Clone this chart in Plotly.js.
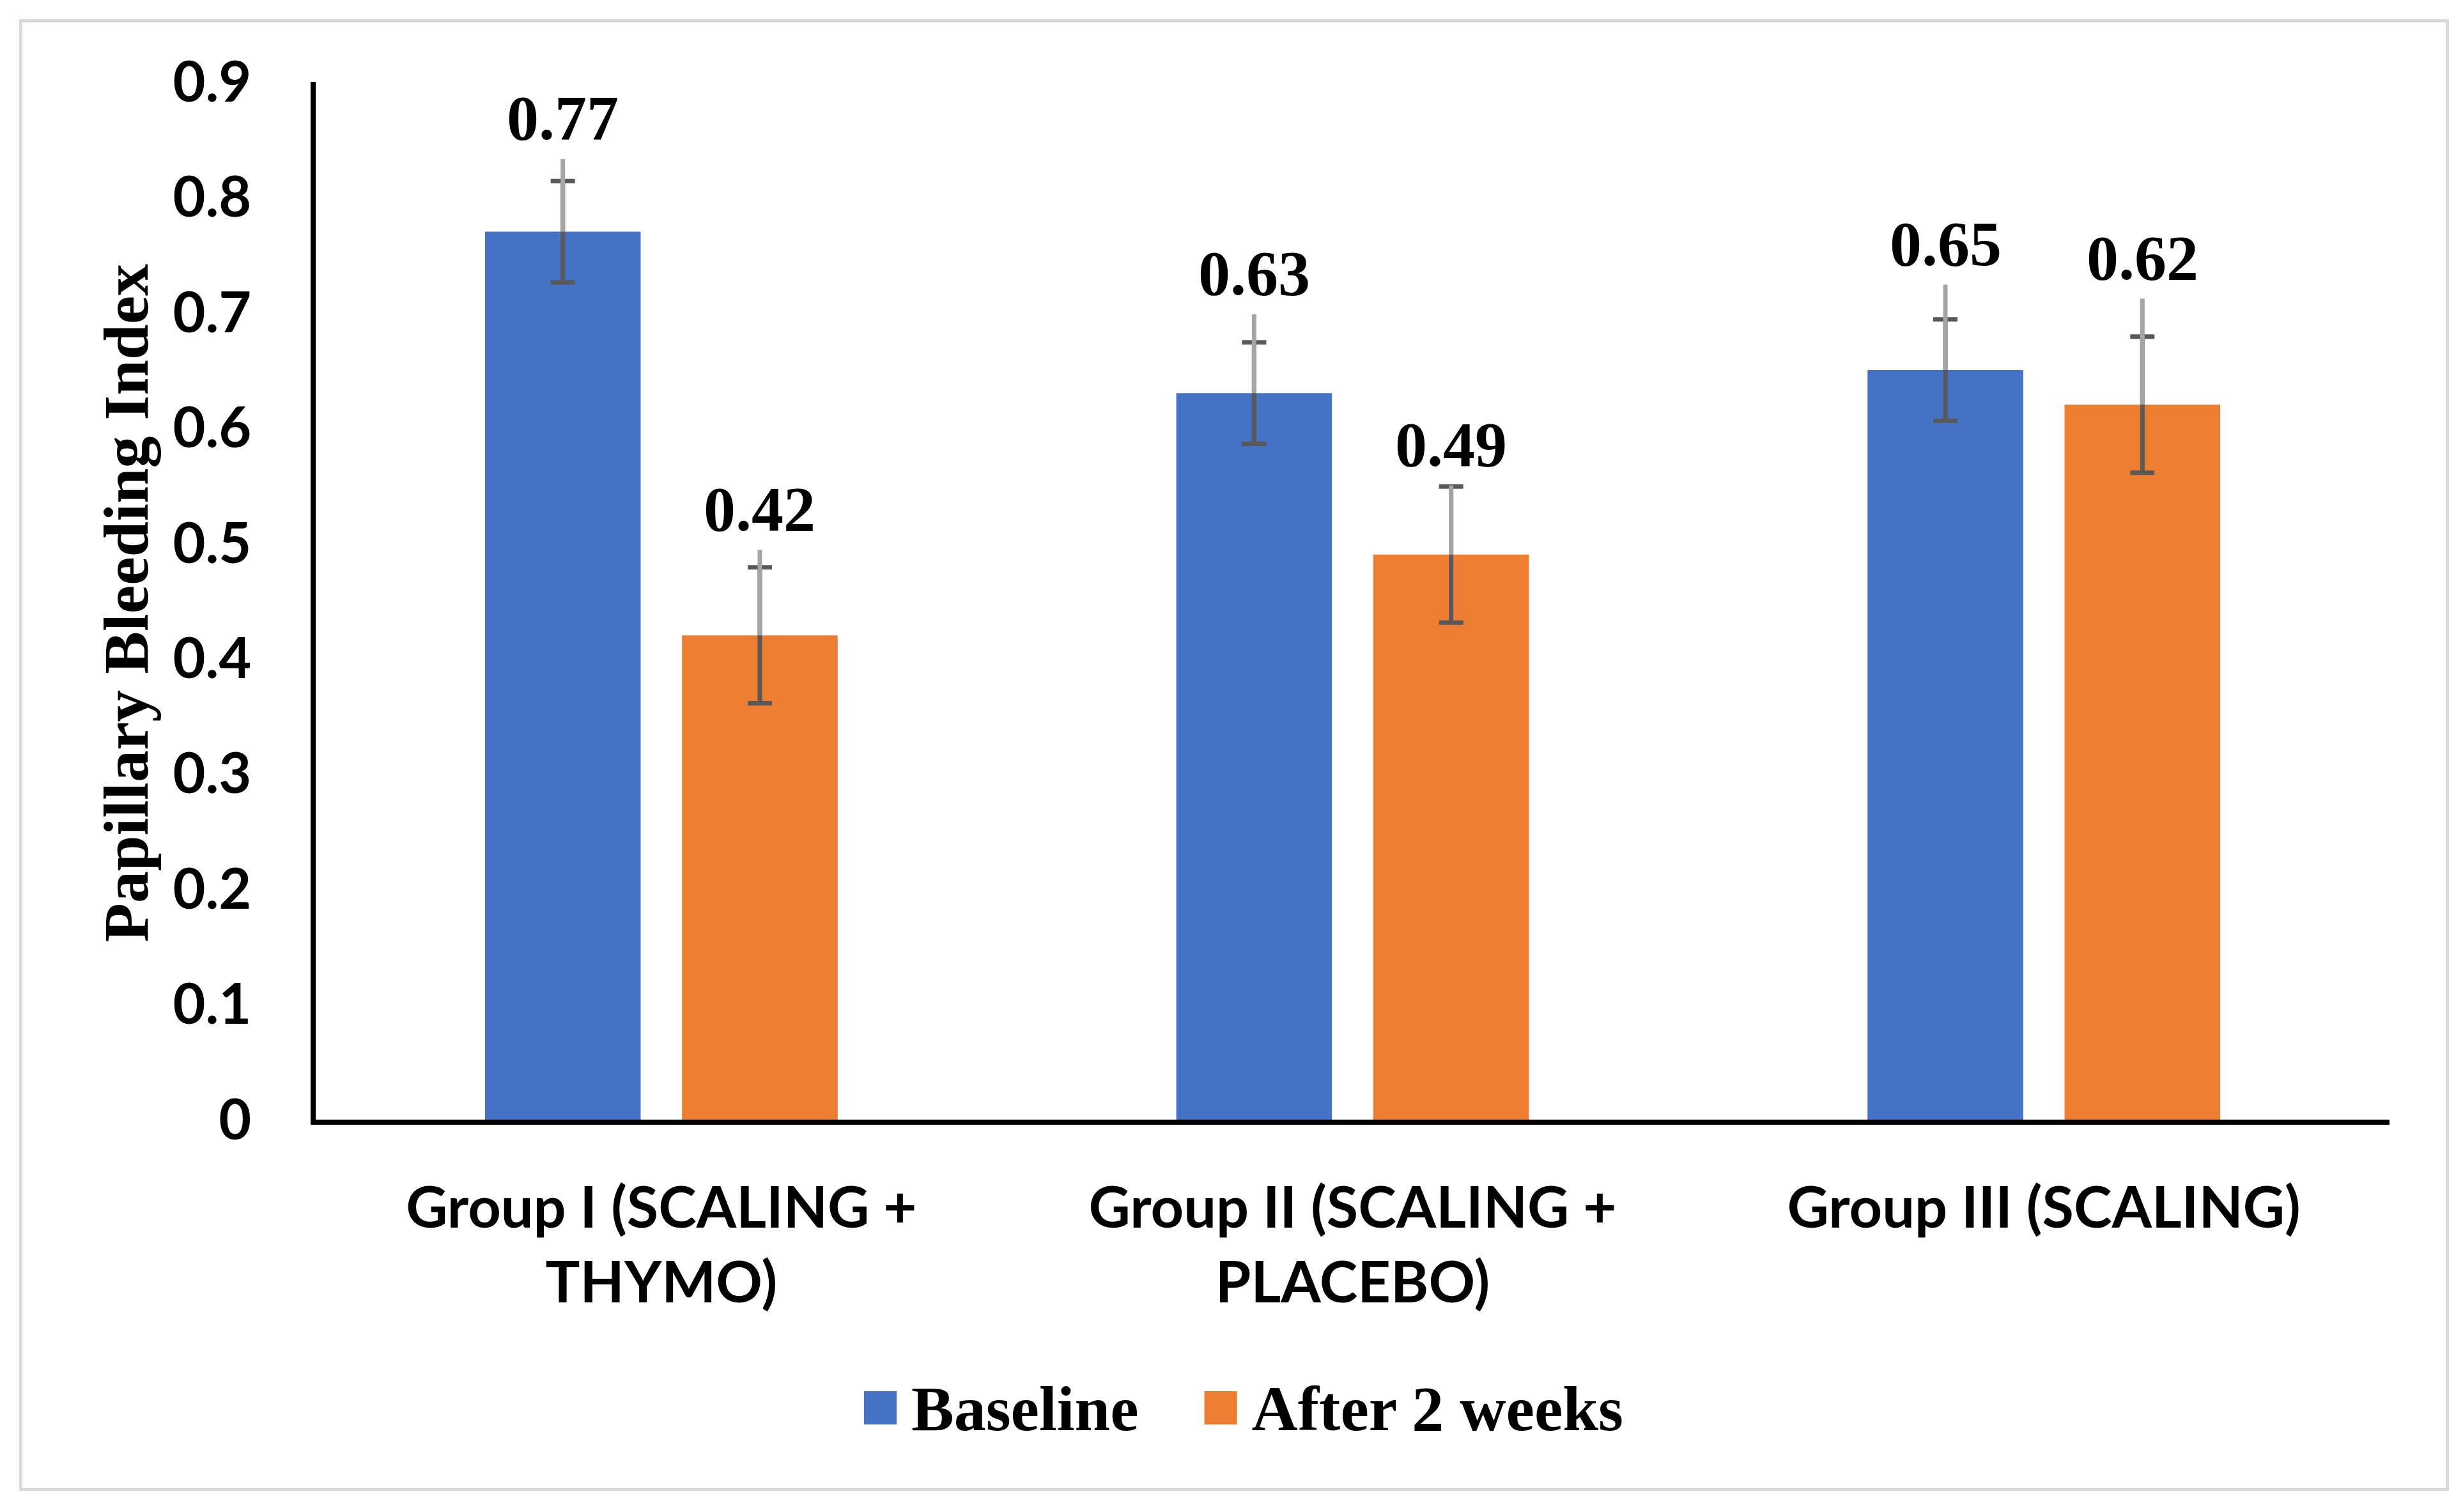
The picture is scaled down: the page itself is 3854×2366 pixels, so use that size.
<!DOCTYPE html>
<html><head><meta charset="utf-8">
<script src="https://cdn.plot.ly/plotly-3.0.1.min.js"></script>
<style>
html,body{margin:0;padding:0;background:#fff;}
#wrap{position:relative;width:3854px;height:2366px;}
#chart{position:absolute;left:0;top:0;width:3854px;height:2366px;}
#frame{position:absolute;left:30px;top:30px;width:3792px;height:2293px;border:5px solid #D9D9D9;pointer-events:none;}
</style>
</head><body>
<div id="wrap"><div id="chart"></div><div id="frame"></div></div>
<script>
// ---- data ----
const groups = ['Group I (SCALING +<br>THYMO)', 'Group II (SCALING +<br>PLACEBO)', 'Group III (SCALING)'];
const seriesNames = ['Baseline', 'After 2 weeks'];
const baseline = [0.77, 0.63, 0.65];
const after2w = [0.42, 0.49, 0.62];
const baselineErr = [0.044, 0.044, 0.044];
const after2wErr = [0.059, 0.059, 0.059];
const baselineUpper = [0.063, 0.0685, 0.074];
const after2wUpper = [0.074, 0.060, 0.092];
const yTicks = [0, 0.1, 0.2, 0.3, 0.4, 0.5, 0.6, 0.7, 0.8, 0.9];
const yTickText = ['0', '0.1', '0.2', '0.3', '0.4', '0.5', '0.6', '0.7', '0.8', '0.9'];
const yTitle = 'Papillary Bleeding Index';

// ---- style ----
const BLUE = '#4472C4', ORANGE = '#ED7D31', DARK = '#595959', LIGHT = '#A5A5A5';
const BARGAP = 0.43, BARGROUPGAP = 0.21;
const slot = (1 - BARGAP) / 2;
const serif = 'Liberation Serif, Times New Roman, serif';
const sans = 'Lato, Open Sans, sans-serif';

function mainBar(name, y, err, color, og) {
  return {type: 'bar', name: name, x: groups, y: y, offsetgroup: og,
    marker: {color: color, line: {width: 0}},
    error_y: {type: 'data', array: err, symmetric: true, color: DARK, thickness: 7, width: 19},
    hoverinfo: 'skip'};
}
function upperLine(y, up, og) {
  return {type: 'bar', x: groups, y: y, offsetgroup: og, showlegend: false,
    marker: {color: 'rgba(0,0,0,0)', line: {width: 0}},
    error_y: {type: 'data', symmetric: false, array: up, arrayminus: up.map(() => 0),
      color: LIGHT, thickness: 7, width: 0},
    hoverinfo: 'skip'};
}

const data = [
  mainBar(seriesNames[0], baseline, baselineErr, BLUE, 'b'),
  mainBar(seriesNames[1], after2w, after2wErr, ORANGE, 'a'),
  upperLine(baseline, baselineUpper, 'b'),
  upperLine(after2w, after2wUpper, 'a')
];

const annotations = [];
[[baseline, baselineUpper, -1], [after2w, after2wUpper, 1]].forEach(([vals, ups, side]) => {
  vals.forEach((v, i) => {
    annotations.push({x: i + side * slot / 2, y: v + ups[i], xref: 'x', yref: 'y',
      text: v.toFixed(2), showarrow: false, yanchor: 'middle', yshift: 64,
      font: {family: serif, size: 100, color: '#000', weight: 'bold'}});
  });
});
annotations.push({xref: 'paper', yref: 'paper', x: -0.0915, y: 0.4975, text: yTitle,
  textangle: -90, showarrow: false, xanchor: 'center', yanchor: 'middle',
  font: {family: serif, size: 100, color: '#000', weight: 'bold'}});

const layout = {
  width: 3854, height: 2366, autosize: false,
  margin: {l: 494, r: 115, t: 128, b: 614},
  paper_bgcolor: '#fff', plot_bgcolor: '#fff',
  barmode: 'group', bargap: BARGAP, bargroupgap: BARGROUPGAP,
  hovermode: false, showlegend: true,
  xaxis: {type: 'category', showline: true, linecolor: '#000', linewidth: 8,
    showgrid: false, zeroline: false, ticks: '', ticklabelstandoff: 53,
    tickfont: {family: sans, size: 90, color: '#000', weight: 'bold'}},
  yaxis: {range: [0, 0.9], tickvals: yTicks, ticktext: yTickText, showline: true,
    linecolor: '#000', linewidth: 8, showgrid: false, zeroline: false, ticks: '',
    ticklabelstandoff: 75,
    tickfont: {family: sans, size: 88, color: '#000', weight: 'bold'}},
  legend: {orientation: 'h', x: 0.2342, xanchor: 'left', y: -0.275, yanchor: 'middle',
    itemwidth: 162, bgcolor: 'rgba(0,0,0,0)',
    font: {family: serif, size: 100, color: '#000', weight: 'bold'}},
  annotations: annotations
};

Plotly.newPlot('chart', data, layout, {staticPlot: true, displayModeBar: false}).then(gd => {
  const svg = gd.querySelector('svg.main-svg');
  gd.querySelectorAll('.legend .traces').forEach(item => {
    const txt = item.querySelector('text.legendtext');
    const paths = item.querySelectorAll('.legendpoints path');
    if (!txt || !paths.length) return;
    const tr = txt.getBoundingClientRect();
    const cy = tr.top + tr.height / 2 - 1;
    paths.forEach(path => {
      const inv = path.parentNode.getScreenCTM().inverse();
      const pt = (x, y) => { const p = svg.createSVGPoint(); p.x = x; p.y = y; return p.matrixTransform(inv); };
      const a = pt(tr.left - 23 - 51, cy - 26);
      const b = pt(tr.left - 23, cy + 26);
      path.removeAttribute('transform');
      path.setAttribute('d', 'M' + a.x + ',' + a.y + 'H' + b.x + 'V' + b.y + 'H' + a.x + 'Z');
    });
  });
});
</script>
</body></html>
